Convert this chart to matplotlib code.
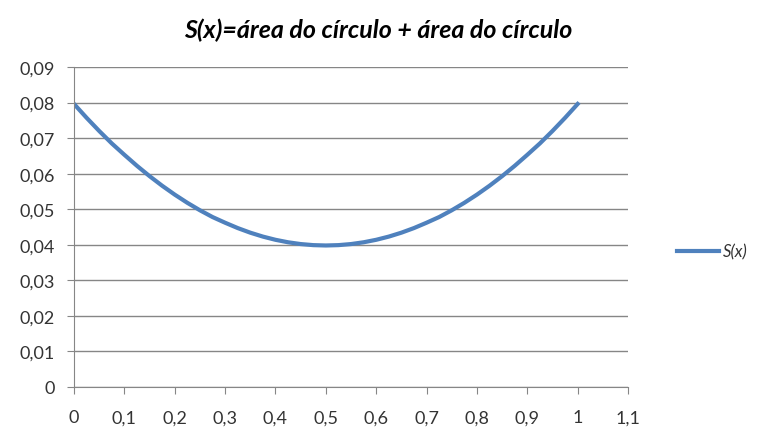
import matplotlib.pyplot as plt
from matplotlib.ticker import FuncFormatter

# values
x = [0.0, 0.025, 0.05, 0.075, 0.1, 0.125, 0.15, 0.175, 0.2, 0.225, 0.25,
     0.275, 0.3, 0.325, 0.35, 0.375, 0.4, 0.425, 0.45, 0.475, 0.5,
     0.525, 0.55, 0.575, 0.6, 0.625, 0.65, 0.675, 0.7, 0.725, 0.75,
     0.775, 0.8, 0.825, 0.85, 0.875, 0.9, 0.925, 0.95, 0.975, 1.0]
s = [0.0796, 0.0757, 0.0720, 0.0685, 0.0653, 0.0622, 0.0593, 0.0566, 0.0541, 0.0518, 0.0497,
     0.0478, 0.0462, 0.0447, 0.0434, 0.0423, 0.0414, 0.0407, 0.0402, 0.0399, 0.0398,
     0.0399, 0.0402, 0.0407, 0.0414, 0.0423, 0.0434, 0.0447, 0.0462, 0.0478, 0.0497,
     0.0518, 0.0541, 0.0566, 0.0593, 0.0622, 0.0653, 0.0685, 0.0720, 0.0757, 0.0796]

title = 'S(x)=área do círculo + área do círculo'
label = 'S(x)'

plt.rcParams['font.family'] = ['Lato', 'DejaVu Sans']
fig = plt.figure(figsize=(7.57, 4.39), dpi=100)
ax = fig.add_axes([0.0978, 0.1162, 0.7318, 0.7289])

line, = ax.plot(x, s, color='#4F81BD', lw=3, label=label, solid_joinstyle='round')

ax.set_xlim(0, 1.1)
ax.set_ylim(0, 0.09)
ax.set_xticks([i / 10 for i in range(12)])
ax.set_yticks([i / 100 for i in range(10)])
comma = FuncFormatter(lambda v, p: ('%g' % round(v, 3)).replace('.', ','))
ax.xaxis.set_major_formatter(comma)
ax.yaxis.set_major_formatter(comma)
ax.yaxis.grid(True, color='#868686', lw=1)
ax.set_axisbelow(True)
for sp in ['top', 'right']:
    ax.spines[sp].set_visible(False)
for sp in ['left', 'bottom']:
    ax.spines[sp].set_color('#868686')
ax.tick_params(axis='both', colors='#868686', length=5, labelsize=13, labelcolor='#333333')
ax.tick_params(axis='x', pad=11)
ax.tick_params(axis='y', pad=9)

fig.text(0.5, 0.93, title, ha='center', va='center', fontsize=18,
         fontweight='bold', fontstyle='italic', color='black')

leg = fig.legend(handles=[line], loc='center left', bbox_to_anchor=(0.875, 0.425),
                 frameon=False, fontsize=12, handlelength=2.5, handletextpad=0.25)
for t in leg.get_texts():
    t.set_fontstyle('italic')
    t.set_color('#333333')

fig.savefig('out.png', dpi=100)
